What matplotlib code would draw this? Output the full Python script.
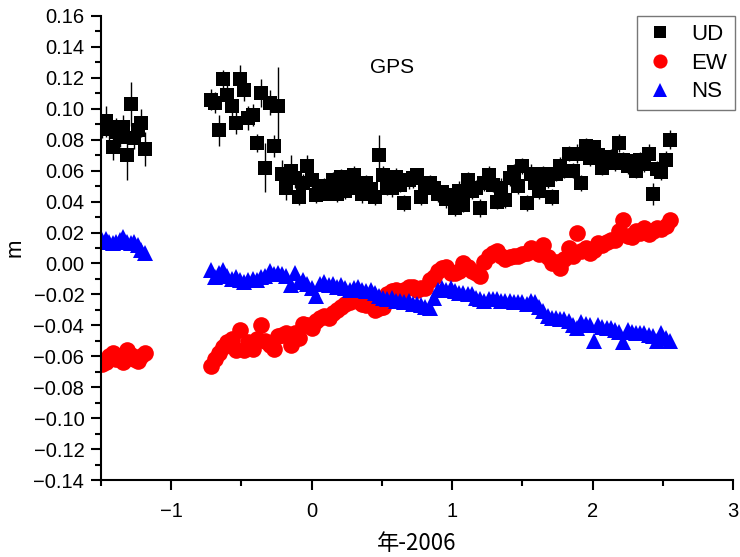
import matplotlib.pyplot as plt
import numpy as np
from matplotlib.ticker import MultipleLocator, FuncFormatter

plt.rcParams['font.family'] = ['Liberation Sans', 'Noto Sans CJK JP']

# sample times (year - 2006)
t1 = [-1.49, -1.465, -1.44, -1.415, -1.39, -1.365, -1.34, -1.315, -1.29, -1.265, -1.24, -1.215, -1.19]
t2 = [-0.72, -0.69, -0.66, -0.63, -0.60, -0.57, -0.54, -0.51, -0.48, -0.45,
      -0.42, -0.39, -0.36, -0.33, -0.30, -0.27, -0.24, -0.21, -0.18, -0.15,
      -0.12, -0.09, -0.06, -0.03, 0.00, 0.03, 0.06, 0.09, 0.12, 0.15,
      0.18, 0.21, 0.24, 0.27, 0.30, 0.33, 0.36, 0.39, 0.42, 0.45,
      0.48, 0.51, 0.54, 0.57, 0.60, 0.63, 0.66, 0.69, 0.72, 0.75,
      0.78, 0.81, 0.84, 0.87, 0.90, 0.93, 0.96, 0.99, 1.02, 1.05,
      1.08, 1.11, 1.14, 1.17, 1.20, 1.23, 1.26, 1.29, 1.32, 1.35,
      1.38, 1.41, 1.44, 1.47, 1.50, 1.53, 1.56, 1.59, 1.62, 1.65,
      1.68, 1.71, 1.74, 1.77, 1.80, 1.83, 1.86, 1.89, 1.92, 1.95,
      1.98, 2.01, 2.04, 2.07, 2.10, 2.13, 2.16, 2.19, 2.22, 2.25,
      2.28, 2.31, 2.34, 2.37, 2.40, 2.43, 2.46, 2.49, 2.52, 2.55]

ud1 = [0.087, 0.092, 0.088, 0.075, 0.085, 0.082, 0.088, 0.070, 0.103, 0.081, 0.086, 0.091, 0.074]
ud2 = [0.106, 0.104, 0.086, 0.119, 0.109, 0.102, 0.091, 0.119, 0.112, 0.094,
       0.096, 0.078, 0.110, 0.062, 0.104, 0.076, 0.102, 0.058, 0.049, 0.060,
       0.055, 0.043, 0.052, 0.063, 0.054, 0.044, 0.046, 0.050, 0.045, 0.054,
       0.045, 0.056, 0.047, 0.052, 0.057, 0.049, 0.045, 0.052, 0.048, 0.043,
       0.070, 0.057, 0.049, 0.049, 0.056, 0.051, 0.039, 0.054, 0.055, 0.057,
       0.043, 0.050, 0.052, 0.049, 0.045, 0.046, 0.042, 0.044, 0.036, 0.047,
       0.038, 0.054, 0.047, 0.049, 0.036, 0.052, 0.057, 0.051, 0.040, 0.049,
       0.041, 0.055, 0.059, 0.050, 0.063, 0.039, 0.058, 0.052, 0.047, 0.058,
       0.054, 0.043, 0.058, 0.063, 0.060, 0.071, 0.060, 0.071, 0.052, 0.076,
       0.068, 0.075, 0.070, 0.062, 0.065, 0.069, 0.065, 0.078, 0.067, 0.063,
       0.066, 0.060, 0.067, 0.064, 0.071, 0.045, 0.061, 0.059, 0.067, 0.080]
ud_err1 = [0.006, 0.010, 0.008, 0.008, 0.009, 0.007, 0.008, 0.016, 0.014, 0.007, 0.008, 0.009, 0.011]
ud_err2 = [0.007, 0.007, 0.010, 0.006, 0.008, 0.009, 0.007, 0.009, 0.007, 0.008,
           0.007, 0.006, 0.009, 0.016, 0.008, 0.007, 0.025, 0.009, 0.008, 0.010,
           0.006, 0.005, 0.006, 0.007, 0.005, 0.005, 0.004, 0.005, 0.004, 0.005,
           0.005, 0.005, 0.005, 0.005, 0.006, 0.005, 0.006, 0.005, 0.005, 0.005,
           0.013, 0.006, 0.005, 0.006, 0.006, 0.005, 0.005, 0.006, 0.006, 0.005,
           0.005, 0.005, 0.005, 0.005, 0.005, 0.005, 0.006, 0.005, 0.005, 0.006,
           0.005, 0.005, 0.005, 0.005, 0.006, 0.005, 0.006, 0.005, 0.005, 0.006,
           0.005, 0.005, 0.005, 0.005, 0.005, 0.005, 0.006, 0.005, 0.005, 0.005,
           0.005, 0.005, 0.005, 0.006, 0.005, 0.005, 0.005, 0.006, 0.005, 0.005,
           0.005, 0.005, 0.005, 0.005, 0.005, 0.005, 0.005, 0.006, 0.005, 0.005,
           0.005, 0.005, 0.005, 0.005, 0.006, 0.007, 0.005, 0.005, 0.006, 0.006]

ew1 = [-0.065, -0.064, -0.060, -0.058, -0.062, -0.060, -0.064, -0.056, -0.059, -0.062, -0.063, -0.060, -0.058]
ew2 = [-0.066, -0.062, -0.058, -0.054, -0.051, -0.049, -0.056, -0.043, -0.056, -0.051,
       -0.055, -0.049, -0.040, -0.050, -0.053, -0.055, -0.047, -0.046, -0.045, -0.053,
       -0.045, -0.048, -0.039, -0.040, -0.042, -0.037, -0.035, -0.034, -0.035, -0.032,
       -0.030, -0.028, -0.026, -0.025, -0.023, -0.024, -0.026, -0.027, -0.027, -0.030,
       -0.029, -0.028, -0.020, -0.018, -0.017, -0.019, -0.017, -0.015, -0.015, -0.017,
       -0.016, -0.016, -0.011, -0.009, -0.005, -0.003, -0.002, -0.006, -0.006, -0.005,
       0.000, -0.002, -0.005, -0.006, -0.008, 0.001, 0.005, 0.007, 0.008, 0.005,
       0.003, 0.004, 0.005, 0.005, 0.006, 0.007, 0.010, 0.008, 0.006, 0.012,
       0.004, 0.000, 0.001, -0.003, 0.003, 0.010, 0.005, 0.020, 0.008, 0.010,
       0.007, 0.009, 0.013, 0.012, 0.014, 0.015, 0.015, 0.021, 0.028, 0.018,
       0.017, 0.021, 0.020, 0.023, 0.019, 0.021, 0.023, 0.022, 0.024, 0.028]
ew_err = 0.003

ns1 = [0.015, 0.016, 0.014, 0.013, 0.014, 0.015, 0.017, 0.014, 0.013, 0.014, 0.012, 0.009, 0.007]
ns2 = [-0.004, -0.009, -0.006, -0.004, -0.008, -0.010, -0.009, -0.011, -0.012, -0.011,
       -0.010, -0.011, -0.009, -0.008, -0.005, -0.007, -0.006, -0.007, -0.008, -0.014,
       -0.006, -0.012, -0.011, -0.013, -0.016, -0.021, -0.013, -0.012, -0.014, -0.013,
       -0.015, -0.014, -0.016, -0.017, -0.016, -0.015, -0.017, -0.018, -0.017, -0.019,
       -0.021, -0.022, -0.023, -0.022, -0.024, -0.024, -0.025, -0.024, -0.026, -0.026,
       -0.027, -0.028, -0.029, -0.022, -0.017, -0.016, -0.017, -0.016, -0.018, -0.019,
       -0.019, -0.020, -0.020, -0.022, -0.023, -0.024, -0.023, -0.023, -0.023, -0.024,
       -0.024, -0.024, -0.025, -0.025, -0.025, -0.026, -0.024, -0.025, -0.028, -0.031,
       -0.034, -0.035, -0.035, -0.036, -0.036, -0.037, -0.040, -0.042, -0.038, -0.039,
       -0.040, -0.050, -0.040, -0.041, -0.042, -0.042, -0.043, -0.044, -0.051, -0.043,
       -0.044, -0.045, -0.045, -0.045, -0.046, -0.047, -0.050, -0.045, -0.048, -0.050]
ns_err = 0.002

t = t1 + t2
ud = ud1 + ud2
ud_err = ud_err1 + ud_err2
ew = ew1 + ew2
ns = ns1 + ns2

fig = plt.figure(figsize=(7.4, 5.57), dpi=100)
ax = fig.add_axes([0.1365, 0.1382, 0.854, 0.8331])

eb_ud = ax.errorbar(t, ud, yerr=ud_err, fmt='s', color='black', ms=10.5, mew=0,
                    ecolor='black', elinewidth=1.0, capsize=4.5, capthick=1.0)
eb_ew = ax.errorbar(t, ew, yerr=ew_err, fmt='o', color='#ff0000', ms=12, mew=0,
                    ecolor='#ff0000', elinewidth=1.0, capsize=4.5, capthick=1.0)
eb_ns = ax.errorbar(t, ns, yerr=ns_err, fmt='^', color='#0000ff', ms=11.5, mew=0,
                    ecolor='#0000ff', elinewidth=1.0, capsize=3.5, capthick=1.0)

ax.set_xlim(-1.5, 3)
ax.set_ylim(-0.14, 0.16)
ax.xaxis.set_major_locator(MultipleLocator(1))
ax.xaxis.set_minor_locator(MultipleLocator(0.5))
ax.yaxis.set_major_locator(MultipleLocator(0.02))
ax.yaxis.set_minor_locator(MultipleLocator(0.01))
ax.xaxis.set_major_formatter(FuncFormatter(lambda v, p: ('%d' % round(v)).replace('-', '\u2212')))
ax.yaxis.set_major_formatter(FuncFormatter(lambda v, p: ('%.2f' % v).replace('-', '\u2212')))

for s in ['top', 'right']:
    ax.spines[s].set_visible(False)
for s in ['left', 'bottom']:
    ax.spines[s].set_linewidth(1.5)
ax.tick_params(which='major', direction='out', length=7, width=1.5, labelsize=14.5, pad=5)
ax.tick_params(which='minor', direction='out', length=4, width=1.5)
ax.tick_params(axis='x', which='major', pad=9)

ax.set_xlabel('年-2006', fontsize=16, family=['Noto Sans CJK JP'], labelpad=8)
ax.set_ylabel('m', fontsize=16)
ax.yaxis.set_label_coords(-0.12, 0.5)
ax.text(0.57, 0.127, 'GPS', fontsize=15, ha='center', va='center')

leg = ax.legend([eb_ud[0], eb_ew[0], eb_ns[0]], ['UD', 'EW', 'NS'],
                loc='upper right', bbox_to_anchor=(1.003, 1.0), borderaxespad=0,
                fontsize=16, frameon=True, fancybox=False, edgecolor='#555555',
                handletextpad=0.7, borderpad=0.35, labelspacing=0.35,
                handlelength=1.4, markerscale=0.85)
leg.get_frame().set_linewidth(1.0)

fig.savefig('out.png', dpi=100)
